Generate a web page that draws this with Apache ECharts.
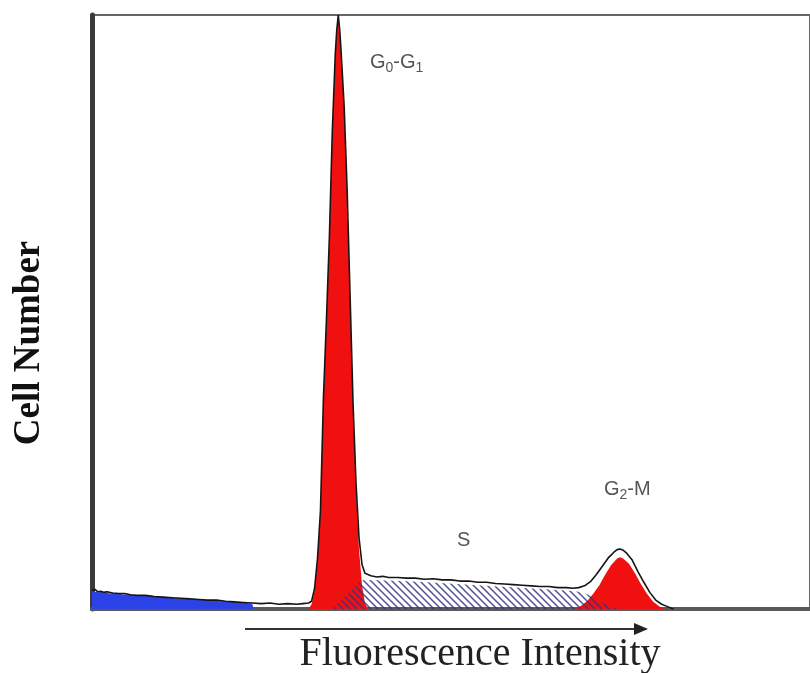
<!DOCTYPE html>
<html>
<head>
<meta charset="utf-8">
<script src="https://cdn.jsdelivr.net/npm/echarts@6/dist/echarts.min.js"></script>
<style>html,body{margin:0;padding:0;background:#fff}#main{width:810px;height:673px}</style>
</head>
<body>
<div id="main"></div>
<script>
// histogram: x = channel, y = relative cell count (peak = 100)
var debrisCh  = [0, 2, 4, 6, 8, 10, 13, 16, 19, 22, 25, 28, 31, 34, 37, 40, 43, 46, 49, 52, 54, 54.5];
var debrisVal = [3.0, 2.8, 2.9, 2.6, 2.7, 2.5, 2.4, 2.2, 2.3, 2.0, 2.0, 1.8, 1.8, 1.6, 1.5, 1.5, 1.3, 1.3, 1.1, 1.0, 0.9, 0];

var g1Ch  = [73, 74, 75, 76, 77, 78, 79, 80, 81, 82, 82.5, 83, 83.5, 84, 85, 86, 87, 88, 89, 90, 91, 92, 93];
var g1Val = [0, 0.8, 3, 8, 16, 35, 48, 62, 80, 93, 97, 100, 97, 93, 84, 70, 52, 34, 20, 10, 4, 1, 0];

var g2Ch  = [163, 165, 167, 169, 171, 173, 175, 177, 178, 179, 181, 183, 185, 187, 189, 191, 193];
var g2Val = [0, 0.6, 1.4, 2.6, 4.0, 5.8, 7.4, 8.5, 8.7, 8.5, 7.6, 6.0, 4.2, 2.6, 1.3, 0.5, 0];

var sCh  = [81, 83, 85, 87, 89, 91, 92, 100, 110, 120, 130, 140, 150, 160, 164, 167, 170, 173, 176, 178];
var sVal = [0, 1.0, 2.0, 3.0, 4.0, 4.8, 4.9, 4.8, 4.6, 4.3, 4.0, 3.7, 3.4, 3.1, 2.9, 2.5, 1.6, 0.8, 0.2, 0];

var totalCh = [0, 1, 2, 3, 4, 5, 7, 9, 11, 13, 15, 18, 21, 24, 27, 30, 33, 36, 39, 42, 45, 48, 51, 54, 57, 60, 63, 66, 69, 71, 73,
  74, 75, 76, 77, 78, 79, 80, 81, 82, 82.5, 83, 83.5, 84, 85, 86, 87, 88, 89, 90, 91, 92, 94, 96, 98, 100,
  103, 106, 109, 112, 115, 118, 121, 124, 127, 130, 133, 136, 139, 142, 145, 148, 151, 154, 157, 160, 162, 164,
  166, 168, 170, 172, 174, 176, 177, 178, 179, 180, 182, 184, 186, 188, 190, 192, 194, 196];
var totalVal = [3.1, 3.3, 2.9, 3.0, 2.8, 2.9, 2.7, 2.6, 2.6, 2.4, 2.3, 2.3, 2.1, 2.0, 1.9, 1.8, 1.7, 1.6, 1.5, 1.5, 1.3, 1.2, 1.1, 1.0, 0.9, 1.0, 0.8, 0.9, 0.8, 0.9, 1.0,
  1.3, 3.4, 8.5, 16.5, 35.5, 48.5, 62.5, 80.5, 93.5, 97.5, 100, 97.5, 93.5, 84.5, 70.5, 52.5, 34.5, 21, 12, 7.5, 6.0, 5.6, 5.4, 5.5, 5.3,
  5.3, 5.2, 5.2, 5.0, 5.1, 4.9, 4.9, 4.7, 4.7, 4.5, 4.5, 4.3, 4.2, 4.1, 4.0, 3.9, 3.8, 3.8, 3.6, 3.6, 3.5, 3.6,
  3.9, 4.6, 5.8, 7.2, 8.6, 9.6, 10.0, 10.1, 9.9, 9.5, 8.3, 6.3, 4.5, 2.8, 1.5, 0.8, 0.4, 0];

function pairs(xs, ys){
  var out = [];
  for (var i = 0; i < xs.length; i++) { out.push([xs[i], ys[i]]); }
  return out;
}

// diagonal hatching for the S phase
function hatch(){
  var c = document.createElement('canvas');
  c.width = 7; c.height = 7;
  var ctx = c.getContext('2d');
  ctx.strokeStyle = 'rgba(50,50,135,0.85)';
  ctx.lineWidth = 1.5;
  ctx.beginPath();
  ctx.moveTo(-1, -1); ctx.lineTo(8, 8);
  ctx.moveTo(-1, 6); ctx.lineTo(1, 8);
  ctx.moveTo(6, -1); ctx.lineTo(8, 1);
  ctx.stroke();
  return c;
}

var myChart = echarts.init(document.getElementById('main'), null, {renderer: 'canvas'});

var labelFont = '"Liberation Sans", Arial, sans-serif';
// subscript: padding on top pushes the small digit down
var labelRich = {
  m: {font: '20px ' + labelFont, fill: '#555', lineHeight: 22},
  s: {font: '14px ' + labelFont, fill: '#555', lineHeight: 14, padding: [12, 0, 0, 0]}
};

var option = {
  animation: false,
  backgroundColor: '#fff',
  grid: {left: 92, top: 15, width: 726, bottom: 64, show: true, borderColor: '#666', borderWidth: 2},
  xAxis: {
    type: 'value', min: 0, max: 242,
    axisLine: {show: true, lineStyle: {color: '#5a5a5a', width: 4}},
    axisTick: {show: false}, axisLabel: {show: false}, splitLine: {show: false}
  },
  yAxis: {
    type: 'value', min: 0, max: 100,
    axisLine: {show: true, lineStyle: {color: '#3a3a3a', width: 5}},
    axisTick: {show: false}, axisLabel: {show: false}, splitLine: {show: false}
  },
  series: [
    {
      name: 'Debris', type: 'line', data: pairs(debrisCh, debrisVal), symbol: 'none',
      lineStyle: {width: 0}, areaStyle: {color: '#2b42e6', opacity: 1}, z: 2
    },
    {
      name: 'G0-G1', type: 'line', data: pairs(g1Ch, g1Val), symbol: 'none',
      lineStyle: {width: 0}, areaStyle: {color: '#f01010', opacity: 1}, z: 2
    },
    {
      name: 'G2-M', type: 'line', data: pairs(g2Ch, g2Val), symbol: 'none',
      lineStyle: {width: 0}, areaStyle: {color: '#f01010', opacity: 1}, z: 2
    },
    {
      name: 'S', type: 'line', data: pairs(sCh, sVal), symbol: 'none',
      lineStyle: {width: 0}, areaStyle: {color: {image: hatch(), repeat: 'repeat'}, opacity: 1}, z: 3
    },
    {
      name: 'Total', type: 'line', data: pairs(totalCh, totalVal), symbol: 'none',
      lineStyle: {width: 1.6, color: '#151515'}, z: 4
    }
  ],
  graphic: [
    {
      type: 'text', x: 29, y: 343, rotation: Math.PI / 2,
      style: {text: 'Cell Number', font: 'bold 37px "Liberation Serif", "Times New Roman", serif', fill: '#111',
        align: 'center', verticalAlign: 'middle'}
    },
    {
      type: 'text', x: 480, y: 654,
      style: {text: 'Fluorescence Intensity', font: '40px "Liberation Serif", "Times New Roman", serif', fill: '#222',
        align: 'center', verticalAlign: 'middle'}
    },
    {
      type: 'line', shape: {x1: 245, y1: 629, x2: 638, y2: 629}, style: {stroke: '#333', lineWidth: 2}
    },
    {
      type: 'polygon', shape: {points: [[634, 623], [648, 629], [634, 635]]}, style: {fill: '#222'}
    },
    {
      type: 'text', x: 370, y: 62,
      style: {text: '{m|G}{s|0}{m|-G}{s|1}', verticalAlign: 'middle', rich: labelRich}
    },
    {
      type: 'text', x: 457, y: 540,
      style: {text: 'S', font: '20px ' + labelFont, fill: '#555', verticalAlign: 'middle'}
    },
    {
      type: 'text', x: 604, y: 489,
      style: {text: '{m|G}{s|2}{m|-M}', verticalAlign: 'middle', rich: labelRich}
    }
  ]
};

myChart.setOption(option);
</script>
</body>
</html>
